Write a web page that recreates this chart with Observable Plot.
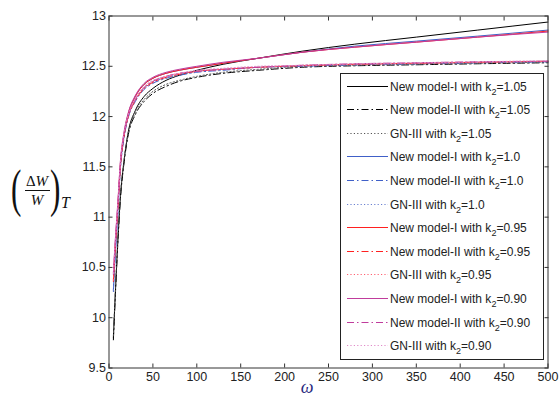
<!DOCTYPE html>
<html><head><meta charset="utf-8">
<style>body{margin:0;background:#fff}</style>
<script src="https://cdn.jsdelivr.net/npm/d3@7"></script>
<script src="https://cdn.jsdelivr.net/npm/@observablehq/plot@0.6"></script>
</head><body><div id="chart"></div>
<script>
const omega = [5,7,10,13,17,22,30,40,50,65,80,100,130,170,220,280,350,420,500];

const m1_105 = [9.80,10.20,10.75,11.20,11.55,11.85,12.06,12.20,12.28,12.36,12.41,12.46,12.52,12.58,12.65,12.72,12.79,12.86,12.94];
const m2_105 = [9.78,10.18,10.73,11.18,11.53,11.82,12.02,12.15,12.23,12.30,12.35,12.39,12.43,12.46,12.49,12.505,12.515,12.525,12.535];
const gn_105 = [9.82,10.22,10.77,11.22,11.56,11.84,12.04,12.17,12.25,12.32,12.36,12.40,12.44,12.47,12.50,12.51,12.52,12.53,12.54];
const m1_100 = [10.28,10.62,11.05,11.50,11.80,12.02,12.20,12.32,12.38,12.43,12.46,12.49,12.53,12.58,12.64,12.70,12.75,12.80,12.86];
const m2_100 = [10.26,10.60,11.03,11.48,11.78,11.99,12.15,12.27,12.33,12.38,12.41,12.44,12.46,12.49,12.50,12.515,12.525,12.535,12.545];
const gn_100 = [10.27,10.61,11.04,11.49,11.79,12.00,12.16,12.28,12.34,12.39,12.42,12.45,12.47,12.49,12.505,12.52,12.53,12.54,12.55];
const m1_095 = [10.38,10.70,11.10,11.53,11.82,12.03,12.20,12.32,12.38,12.43,12.46,12.49,12.53,12.58,12.64,12.69,12.74,12.79,12.85];
const m2_095 = [10.36,10.68,11.08,11.51,11.80,12.00,12.16,12.28,12.34,12.39,12.42,12.45,12.47,12.49,12.505,12.52,12.53,12.54,12.55];
const gn_095 = [10.37,10.69,11.09,11.52,11.81,12.01,12.17,12.29,12.35,12.40,12.43,12.45,12.47,12.49,12.51,12.52,12.53,12.54,12.55];
const m1_090 = [10.45,10.75,11.14,11.56,11.84,12.04,12.21,12.33,12.39,12.44,12.47,12.50,12.54,12.58,12.64,12.69,12.74,12.79,12.84];
const m2_090 = [10.43,10.73,11.12,11.54,11.82,12.01,12.17,12.29,12.35,12.40,12.43,12.45,12.47,12.49,12.51,12.525,12.535,12.545,12.55];
const gn_090 = [10.44,10.74,11.13,11.55,11.83,12.02,12.18,12.30,12.36,12.40,12.43,12.46,12.48,12.50,12.51,12.525,12.535,12.545,12.555];

const seriesValues = [m1_105,m2_105,gn_105,m1_100,m2_100,gn_100,m1_095,m2_095,gn_095,m1_090,m2_090,gn_090];
const seriesModel = ["New model-I","New model-II","GN-III","New model-I","New model-II","GN-III","New model-I","New model-II","GN-III","New model-I","New model-II","GN-III"];
const seriesK = ["1.05","1.05","1.05","1.0","1.0","1.0","0.95","0.95","0.95","0.90","0.90","0.90"];
const seriesColor = ["#000000","#000000","#555555","#4060c8","#4060c8","#6a80d0","#ff2020","#ff2020","#ff6070","#c03c9c","#c03c9c","#e08ac8"];
const seriesDash = ["none","7,3,1.5,3","1.2,2.2","none","7,3,1.5,3","1.2,2.2","none","7,3,1.5,3","1.2,2.2","none","7,3,1.5,3","1.2,2.2"];

const xTicks = [0,50,100,150,200,250,300,350,400,450,500];
const yTicks = [9.5,10,10.5,11,11.5,12,12.5,13];

const lineMarks = seriesValues.map((vals, i) => Plot.line(
  omega.map((w, j) => ({omega: w, value: vals[j]})),
  {x: "omega", y: "value", stroke: seriesColor[i], strokeDasharray: seriesDash[i], strokeWidth: 1, curve: "monotone-x"}
));

const chart = Plot.plot({
  width: 559, height: 396,
  marginLeft: 108.5, marginRight: 11.5, marginTop: 15.5, marginBottom: 28.5,
  style: {fontFamily: "'Liberation Sans', Arial, sans-serif", fontSize: "12.5px", color: "#222", background: "#fff"},
  x: {domain: [0, 500]},
  y: {domain: [9.5, 13]},
  marks: [
    ...lineMarks,
    Plot.axisX({ticks: xTicks, anchor: "bottom", tickSize: -4, tickPadding: 8, label: null, tickFormat: d => String(d), stroke: "#333"}),
    Plot.axisX({ticks: xTicks, anchor: "top", tickSize: -4, label: null, tickFormat: () => "", stroke: "#333"}),
    Plot.axisY({ticks: yTicks, anchor: "left", tickSize: -4, tickPadding: 7, label: null, tickFormat: d => String(d), stroke: "#333"}),
    Plot.axisY({ticks: yTicks, anchor: "right", tickSize: -4, label: null, tickFormat: () => "", stroke: "#333"}),
    Plot.frame({stroke: "#333"})
  ]
});
document.getElementById("chart").appendChild(chart);

const svg = d3.select(chart);
// Legend
const lg = svg.append("g").attr("text-anchor", "start");
const lx = 340.5, ly = 73.5, lw = 203, lh = 286, step = 23.6;
lg.append("rect").attr("x", lx).attr("y", ly).attr("width", lw).attr("height", lh)
  .attr("fill", "#fff").attr("stroke", "#222").attr("stroke-width", 1);
seriesModel.forEach((m, i) => {
  const y = Math.round(ly + 12 + i * step) + 0.5;
  lg.append("line").attr("x1", 347).attr("x2", 388).attr("y1", y).attr("y2", y)
    .attr("stroke", seriesColor[i]).attr("stroke-dasharray", seriesDash[i]).attr("stroke-width", 1);
  const t = lg.append("text").attr("x", 390).attr("y", y + 4.5).attr("text-anchor", "start")
    .attr("font-family", "'Liberation Sans', Arial, sans-serif").attr("font-size", 12).attr("fill", "#222");
  t.append("tspan").text(m + " with k");
  t.append("tspan").attr("font-size", 9).attr("dy", 4).text("2");
  t.append("tspan").attr("dy", -4).text("=" + seriesK[i]);
});

// Axis labels
const serif = "'Liberation Serif', 'Times New Roman', serif";
svg.append("text").attr("x", 307).attr("y", 393).attr("text-anchor", "middle")
  .attr("font-family", serif).attr("font-style", "italic").attr("font-size", 18).attr("fill", "#2a2a80").text("ω");
const yl = svg.append("g").attr("fill", "#111").attr("font-family", serif).attr("text-anchor", "start");
yl.append("text").attr("transform", "translate(11,206) scale(0.6,1)").attr("font-size", 52).text("(");
yl.append("text").attr("transform", "translate(50,206) scale(0.6,1)").attr("font-size", 52).text(")");
const fr = yl.append("text").attr("x", 37).attr("y", 186).attr("text-anchor", "middle").attr("font-size", 15);
fr.append("tspan").text("Δ");
fr.append("tspan").attr("font-style", "italic").text("W");
yl.append("line").attr("x1", 25).attr("x2", 50).attr("y1", 190.5).attr("y2", 190.5).attr("stroke", "#111").attr("stroke-width", 1);
yl.append("text").attr("x", 37).attr("y", 205).attr("text-anchor", "middle").attr("font-size", 15).attr("font-style", "italic").text("W");
yl.append("text").attr("x", 61).attr("y", 208).attr("font-size", 16).attr("font-style", "italic").text("T");
</script>
</body></html>
